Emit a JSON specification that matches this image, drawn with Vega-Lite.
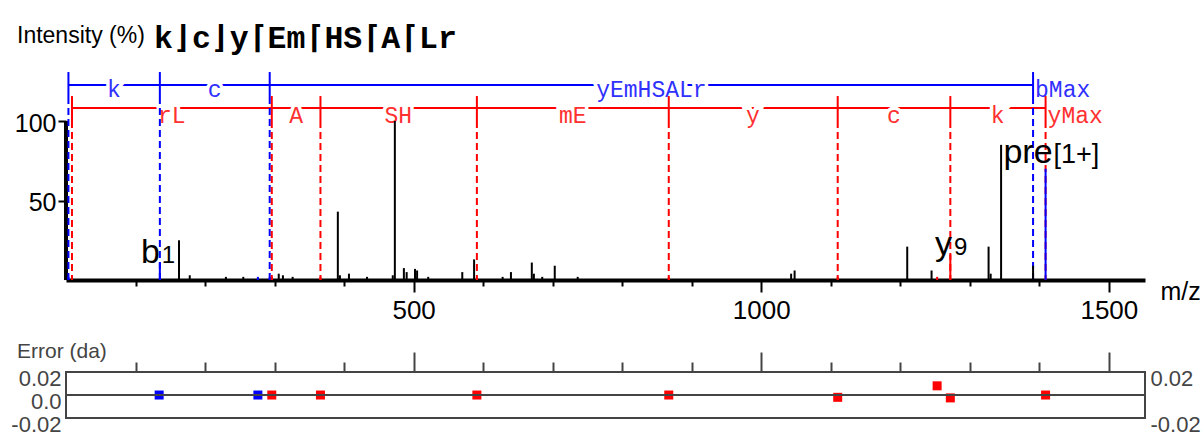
{
"$schema":"https://vega.github.io/schema/vega-lite/v6.json",
"width":1079,"height":437,
"autosize":{"type":"none"},
"padding":{"left":66,"top":0,"right":56,"bottom":0},
"background":"white",
"config":{"view":{"stroke":null},"axis":{"grid":false,"labelFont":"Liberation Sans, Arial, sans-serif","titleFont":"Liberation Sans, Arial, sans-serif"}},
"datasets":{
"peaks":[
{"mz":162.5,"int":25,"ion":"n"},{"mz":178,"int":3,"ion":"n"},{"mz":230,"int":2,"ion":"n"},{"mz":255,"int":2,"ion":"n"},
{"mz":306,"int":4,"ion":"n"},{"mz":312,"int":3,"ion":"n"},{"mz":326,"int":2,"ion":"n"},{"mz":391,"int":43,"ion":"n"},
{"mz":394,"int":3,"ion":"n"},{"mz":407,"int":4,"ion":"n"},{"mz":433,"int":2,"ion":"n"},{"mz":470,"int":3,"ion":"n"},
{"mz":473,"int":100,"ion":"n"},{"mz":486,"int":7.5,"ion":"n"},{"mz":490,"int":5,"ion":"n"},{"mz":502,"int":7,"ion":"n"},
{"mz":505,"int":6,"ion":"n"},{"mz":521,"int":2,"ion":"n"},{"mz":570,"int":5,"ion":"n"},{"mz":587,"int":13,"ion":"n"},
{"mz":628,"int":2,"ion":"n"},{"mz":640,"int":5,"ion":"n"},{"mz":670,"int":11,"ion":"n"},{"mz":673,"int":4,"ion":"n"},
{"mz":685,"int":2,"ion":"n"},{"mz":703,"int":9,"ion":"n"},{"mz":736,"int":2,"ion":"n"},{"mz":1043,"int":4,"ion":"n"},
{"mz":1048,"int":6,"ion":"n"},{"mz":1210,"int":21,"ion":"n"},{"mz":1245,"int":6,"ion":"n"},{"mz":1327,"int":21,"ion":"n"},
{"mz":1330,"int":4,"ion":"n"},{"mz":1345,"int":85,"ion":"n"},{"mz":1391,"int":9,"ion":"n"},
{"mz":3.5,"int":2,"ion":"b"},{"mz":135,"int":11,"ion":"b"},{"mz":276,"int":2,"ion":"b"},{"mz":293,"int":2,"ion":"b"},
{"mz":1409,"int":70,"ion":"b"},
{"mz":8.6,"int":2,"ion":"y"},{"mz":296,"int":2,"ion":"y"},{"mz":366,"int":2,"ion":"y"},{"mz":591,"int":2,"ion":"y"},
{"mz":867,"int":2,"ion":"y"},{"mz":1110,"int":2,"ion":"y"},{"mz":1253,"int":2,"ion":"y"},{"mz":1272,"int":16,"ion":"y"}
],
"ladder":[
{"mz":3.5,"ion":"b"},{"mz":135,"ion":"b"},{"mz":293,"ion":"b"},{"mz":1391,"ion":"b"},
{"mz":8.6,"ion":"y"},{"mz":296,"ion":"y"},{"mz":366,"ion":"y"},{"mz":591,"ion":"y"},{"mz":867,"ion":"y"},
{"mz":1110,"ion":"y"},{"mz":1272,"ion":"y"},{"mz":1409,"ion":"y"}
],
"ladlab":[
{"mz":69,"t":"k","ion":"b"},{"mz":214,"t":"c","ion":"b"},{"mz":842,"t":"yEmHSALr","ion":"b"},
{"mz":152,"t":"rL","ion":"y"},{"mz":331,"t":"A","ion":"y"},{"mz":478,"t":"SH","ion":"y"},{"mz":729,"t":"mE","ion":"y"},
{"mz":988,"t":"y","ion":"y"},{"mz":1191,"t":"c","ion":"y"},{"mz":1340,"t":"k","ion":"y"}
],
"ladmax":[{"mz":1391,"t":"bMax","ion":"b"},{"mz":1409,"t":"yMax","ion":"y"}],
"plabels":[
{"lx":135,"ly":10.7,"main":"b","sub":"1"},
{"lx":1274.5,"ly":16,"main":"y","sub":"9"},
{"lx":1419,"ly":73.6,"main":"pre","sub":"[1+]"}
],
"errors":[
{"mz":134,"err":0,"ion":"b"},{"mz":276,"err":0,"ion":"b"},{"mz":296,"err":0,"ion":"y"},{"mz":366,"err":0,"ion":"y"},
{"mz":591,"err":0,"ion":"y"},{"mz":867,"err":0,"ion":"y"},{"mz":1110,"err":-0.002,"ion":"y"},
{"mz":1253,"err":0.008,"ion":"y"},{"mz":1272,"err":-0.0025,"ion":"y"},{"mz":1409,"err":0,"ion":"y"}
]
},
"resolve":{"scale":{"y":"independent"},"axis":{"x":"independent","y":"independent"}},
"layer":[
{
"layer":[
{"data":{"values":[{}]},
 "mark":{"type":"rule","color":"#000000","strokeWidth":4},
 "encoding":{
  "x":{"datum":0,"type":"quantitative","scale":{"domain":[0,1552],"nice":false,"zero":false},
   "axis":{"orient":"bottom","offset":-157,"values":[100,200,300,400,500,600,700,800,900,1000,1100,1200,1300,1400,1500],
    "domain":true,"domainColor":"#000000","domainWidth":4,"ticks":true,"tickColor":"#000000","tickWidth":2,
    "tickSize":{"condition":{"test":"datum.value % 500 === 0","value":12},"value":6},
    "labelExpr":"datum.value % 500 === 0 ? '' + datum.value : ''","labelFontSize":26,"labelColor":"#000000",
    "labelPadding":5,"labelOverlap":false,"labelFlush":false,"grid":false,
    "title":"m/z","titleFontSize":25,"titleFontWeight":"normal","titleColor":"#000000","titleX":1094,"titleY":11,
    "titleAlign":"left","titleBaseline":"middle","titleAngle":0}},
  "y":{"datum":0,"type":"quantitative","scale":{"domain":[-98.7,176.1],"nice":false,"zero":false},
   "axis":{"orient":"left","values":[50,100],"domain":false,"ticks":true,"tickColor":"#000000","tickWidth":2,"tickSize":8,
    "labelFontSize":25,"labelColor":"#000000","labelPadding":2,"labelOffset":2,"labelOverlap":false,"title":null,"grid":false}},
  "y2":{"datum":100}
 }},
{"data":{"name":"ladder"},"transform":[{"filter":"datum.ion === 'b'"}],
 "mark":{"type":"rule","color":"#0000ff","strokeWidth":2},
 "encoding":{"x":{"aggregate":"min","field":"mz","type":"quantitative"},"x2":{"aggregate":"max","field":"mz"},"y":{"datum":122.6}}},
{"data":{"name":"ladder"},"transform":[{"filter":"datum.ion === 'y'"}],
 "mark":{"type":"rule","color":"#ff0000","strokeWidth":2},
 "encoding":{"x":{"aggregate":"min","field":"mz","type":"quantitative"},"x2":{"aggregate":"max","field":"mz"},"y":{"datum":108.2}}},
{"data":{"name":"ladlab"},"transform":[{"filter":"datum.ion === 'b'"}],
 "mark":{"type":"text","font":"Liberation Mono, DejaVu Sans Mono, monospace","fontSize":23,"align":"center","baseline":"alphabetic","fill":"#ffffff","stroke":"#ffffff","strokeWidth":7},
 "encoding":{"x":{"field":"mz","type":"quantitative"},"y":{"datum":115.1},"text":{"field":"t"}}},
{"data":{"name":"ladlab"},"transform":[{"filter":"datum.ion === 'y'"}],
 "mark":{"type":"text","font":"Liberation Mono, DejaVu Sans Mono, monospace","fontSize":23,"align":"center","baseline":"alphabetic","fill":"#ffffff","stroke":"#ffffff","strokeWidth":7},
 "encoding":{"x":{"field":"mz","type":"quantitative"},"y":{"datum":98.7},"text":{"field":"t"}}},
{"data":{"name":"ladlab"},"transform":[{"filter":"datum.ion === 'b'"}],
 "mark":{"type":"text","font":"Liberation Mono, DejaVu Sans Mono, monospace","fontSize":23,"align":"center","baseline":"alphabetic","fill":"#3030ff"},
 "encoding":{"x":{"field":"mz","type":"quantitative"},"y":{"datum":115.1},"text":{"field":"t"}}},
{"data":{"name":"ladlab"},"transform":[{"filter":"datum.ion === 'y'"}],
 "mark":{"type":"text","font":"Liberation Mono, DejaVu Sans Mono, monospace","fontSize":23,"align":"center","baseline":"alphabetic","fill":"#ff3030"},
 "encoding":{"x":{"field":"mz","type":"quantitative"},"y":{"datum":98.7},"text":{"field":"t"}}},
{"data":{"name":"ladmax"},"transform":[{"filter":"datum.ion === 'b'"}],
 "mark":{"type":"text","font":"Liberation Mono, DejaVu Sans Mono, monospace","fontSize":23,"align":"left","baseline":"alphabetic","fill":"#3030ff","dx":2},
 "encoding":{"x":{"field":"mz","type":"quantitative"},"y":{"datum":115.1},"text":{"field":"t"}}},
{"data":{"name":"ladmax"},"transform":[{"filter":"datum.ion === 'y'"}],
 "mark":{"type":"text","font":"Liberation Mono, DejaVu Sans Mono, monospace","fontSize":23,"align":"left","baseline":"alphabetic","fill":"#ff3030","dx":2},
 "encoding":{"x":{"field":"mz","type":"quantitative"},"y":{"datum":98.7},"text":{"field":"t"}}},
{"data":{"name":"ladder"},"transform":[{"filter":"datum.ion === 'b'"}],
 "mark":{"type":"rule","color":"#0000ff","strokeWidth":2},
 "encoding":{"x":{"field":"mz","type":"quantitative"},"y":{"datum":130.8},"y2":{"datum":115.1}}},
{"data":{"name":"ladder"},"transform":[{"filter":"datum.ion === 'y'"}],
 "mark":{"type":"rule","color":"#ff0000","strokeWidth":2},
 "encoding":{"x":{"field":"mz","type":"quantitative"},"y":{"datum":115.7},"y2":{"datum":100}}},
{"data":{"name":"ladder"},"transform":[{"filter":"datum.ion === 'b'"}],
 "mark":{"type":"rule","color":"#0000ff","strokeWidth":2,"strokeDash":[7,4]},
 "encoding":{"x":{"field":"mz","type":"quantitative"},"y":{"datum":115.1},"y2":{"datum":0}}},
{"data":{"name":"ladder"},"transform":[{"filter":"datum.ion === 'y'"}],
 "mark":{"type":"rule","color":"#ff0000","strokeWidth":2,"strokeDash":[7,4]},
 "encoding":{"x":{"field":"mz","type":"quantitative"},"y":{"datum":100},"y2":{"datum":0}}},
{"data":{"name":"peaks"},
 "mark":{"type":"rule","strokeWidth":2},
 "encoding":{"x":{"field":"mz","type":"quantitative"},"y":{"field":"int","type":"quantitative"},"y2":{"datum":0},
  "color":{"field":"ion","type":"nominal","scale":{"domain":["n","b","y"],"range":["#000000","#0000ff","#ff0000"]},"legend":null}}},
{"data":{"name":"plabels"},
 "mark":{"type":"text","font":"Liberation Sans, Arial, sans-serif","fontSize":34,"align":"right","baseline":"alphabetic","fill":"#000000","dx":0},
 "encoding":{"x":{"field":"lx","type":"quantitative"},"y":{"field":"ly","type":"quantitative"},"text":{"field":"main"}}},
{"data":{"name":"plabels"},"transform":[{"filter":"datum.main !== 'pre'"}],
 "mark":{"type":"text","font":"Liberation Sans, Arial, sans-serif","fontSize":24,"align":"left","baseline":"alphabetic","fill":"#000000","dx":2},
 "encoding":{"x":{"field":"lx","type":"quantitative"},"y":{"field":"ly","type":"quantitative"},"text":{"field":"sub"}}},
{"data":{"name":"plabels"},"transform":[{"filter":"datum.main === 'pre'"}],
 "mark":{"type":"text","font":"Liberation Sans, Arial, sans-serif","fontSize":27,"align":"left","baseline":"alphabetic","fill":"#000000","dx":1},
 "encoding":{"x":{"field":"lx","type":"quantitative"},"y":{"field":"ly","type":"quantitative"},"text":{"field":"sub"}}},
{"data":{"values":[{}]},
 "mark":{"type":"text","text":"Intensity (%)","font":"Liberation Sans, Arial, sans-serif","fontSize":23,"align":"left","baseline":"alphabetic","fill":"#000000"},
 "encoding":{"x":{"datum":-70.5},"y":{"datum":148.9}}},
{"data":{"values":[{}]},
 "mark":{"type":"text","text":"k⌋c⌋y⌈Em⌈HS⌈A⌈Lr","font":"Liberation Mono, DejaVu Sans Mono, monospace","fontWeight":"bold","fontSize":31.5,"align":"left","baseline":"alphabetic","fill":"#000000"},
 "encoding":{"x":{"datum":126.6},"y":{"datum":145.7}}}
]
},
{
"layer":[
{"data":{"values":[{}]},
 "mark":{"type":"rect","fillOpacity":0,"stroke":"#444444","strokeWidth":2},
 "encoding":{
  "x":{"datum":0,"type":"quantitative",
   "axis":{"orient":"top","offset":-372,"values":[100,200,300,400,500,600,700,800,900,1000,1100,1200,1300,1400,1500],
    "domain":false,"labels":false,"ticks":true,"tickColor":"#444444","tickWidth":2,
    "tickSize":{"condition":{"test":"datum.value % 500 === 0","value":20},"value":10},"title":null,"grid":false}},
  "x2":{"datum":1552},
  "y":{"datum":-0.02,"type":"quantitative","scale":{"domain":[-0.0365,0.3435],"nice":false,"zero":false},
   "axis":{"orient":"left","values":[-0.02,0,0.02],"domain":false,"ticks":false,"labelOverlap":false,
    "labelExpr":"datum.value > 0.01 ? '0.02' : (datum.value < -0.01 ? '-0.02' : '0.0')",
    "labelFontSize":22,"labelColor":"#444444","labelPadding":5,"labelBaseline":"middle",
    "labelOffset":{"condition":{"test":"datum.value === 0","value":6},"value":6},"title":null,"grid":false}},
  "y2":{"datum":0.02}
 }},
{"data":{"name":"errors"},
 "mark":{"type":"square","size":81,"opacity":1},
 "encoding":{"x":{"field":"mz","type":"quantitative"},"y":{"field":"err","type":"quantitative"},
  "color":{"field":"ion","type":"nominal","scale":{"domain":["n","b","y"],"range":["#000000","#0000ff","#ff0000"]},"legend":null}}},
{"data":{"values":[{}]},
 "mark":{"type":"text","text":"Error (da)","font":"Liberation Sans, Arial, sans-serif","fontSize":21,"align":"left","baseline":"middle","fill":"#444444"},
 "encoding":{"x":{"datum":-70.5},"y":{"datum":0.0374}}}
]
},
{"data":{"values":[{}]},
 "mark":{"type":"rule","color":"#444444","strokeWidth":2},
 "encoding":{
  "x":{"datum":0,"type":"quantitative","axis":null},
  "x2":{"datum":1552},
  "y":{"datum":0,"type":"quantitative","scale":{"domain":[-0.0365,0.3435],"nice":false,"zero":false},
   "axis":{"orient":"right","values":[-0.02,0.02],"domain":false,"ticks":false,"labelOverlap":false,
    "labelExpr":"datum.value > 0.01 ? '0.02' : '-0.02'",
    "labelFontSize":22,"labelColor":"#444444","labelPadding":5,"labelBaseline":"middle","labelOffset":6,"title":null,"grid":false}}
 }}
]
}
